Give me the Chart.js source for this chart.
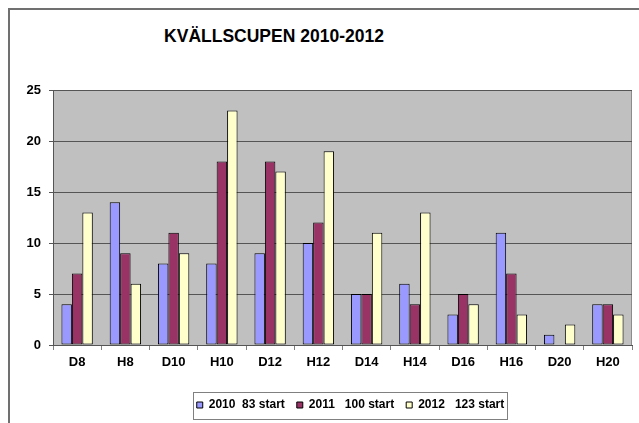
<!DOCTYPE html>
<html>
<head>
<meta charset="utf-8">
<script src="https://cdn.jsdelivr.net/npm/chart.js@4"></script>
<style>
  html, body { margin: 0; padding: 0; background: #fff; }
  #wrap { position: relative; width: 639px; height: 423px; overflow: hidden; }
  #frame { position: absolute; left: 8px; top: 8px; width: 660px; height: 440px;
           border-left: 2px solid #707070; border-top: 2px solid #707070; }
  #title { position: absolute; left: 0; top: 25px; width: 548px; text-align: center;
           font: bold 17.5px "Liberation Sans", Arial, sans-serif; line-height: 22px; color: #000; }
  #chart { position: absolute; left: 0; top: 0; }
</style>
</head>
<body>
<div id="wrap">
  <div id="frame"></div>
  <div id="title">KVÄLLSCUPEN 2010-2012</div>
  <canvas id="chart" width="639" height="423"></canvas>
</div>
<script>
// classes
const categories = ['D8', 'H8', 'D10', 'H10', 'D12', 'H12', 'D14', 'H14', 'D16', 'H16', 'D20', 'H20'];

// starters per class and year
const start2010 = [4, 14, 8, 8, 9, 10, 5, 6, 3, 11, 1, 4];
const start2011 = [7, 9, 11, 18, 18, 12, 5, 4, 5, 7, 0, 4];
const start2012 = [13, 6, 9, 23, 17, 19, 11, 13, 4, 3, 2, 3];

const seriesLabels = ['2010  83 start', '2011   100 start', '2012   123 start'];
const seriesColors = ['#9999FF', '#993366', '#FFFFCC'];

Chart.defaults.font.family = '"Liberation Sans", Arial, sans-serif';
Chart.defaults.color = '#000';

// grey plot area + box around the legend
const excelLook = {
    id: 'excelLook',
    afterLayout(chart) {
        // legend sits a little right of the plot centre in the original
        chart.legend.left += 8;
        chart.legend.right += 8;
    },
    beforeDraw(chart) {
        const {ctx, chartArea: a} = chart;
        ctx.save();
        ctx.fillStyle = '#C0C0C0';
        ctx.fillRect(a.left, a.top, a.right - a.left, a.bottom - a.top);
        ctx.strokeStyle = '#8c8c8c';
        ctx.lineWidth = 1;
        ctx.strokeRect(a.left + 0.5, a.top + 0.5, a.right - a.left - 1, a.bottom - a.top);
        ctx.restore();
    },
    afterDraw(chart) {
        const legend = chart.legend;
        const opts = legend.options.labels;
        const size = opts.font.size;
        const ctx = chart.ctx;
        ctx.save();
        ctx.font = 'bold ' + size + 'px ' + Chart.defaults.font.family;
        let total = 0;
        legend.legendItems.forEach((item, i) => {
            total += opts.boxWidth + size / 2 + ctx.measureText(item.text).width;
            if (i > 0) total += opts.padding;
        });
        const cx = (legend.left + legend.right) / 2;
        const cy = legend.top + opts.padding + size / 2;
        const x0 = Math.round(cx - total / 2 - 4) + 0.5;
        const w = Math.round(total + 6);
        ctx.strokeStyle = '#808080';
        ctx.lineWidth = 1;
        ctx.strokeRect(x0, Math.round(cy - 13) + 0.5, w, 27);
        ctx.restore();
    }
};

function makeDataset(label, data, color) {
    return {
        label: label,
        data: data,
        backgroundColor: color,
        borderColor: '#000',
        borderWidth: 1,
        borderSkipped: false,
        barPercentage: 1,
        categoryPercentage: 0.65
    };
}

new Chart(document.getElementById('chart'), {
    type: 'bar',
    data: {
        labels: categories,
        datasets: [
            makeDataset(seriesLabels[0], start2010, seriesColors[0]),
            makeDataset(seriesLabels[1], start2011, seriesColors[1]),
            makeDataset(seriesLabels[2], start2012, seriesColors[2])
        ]
    },
    options: {
        responsive: false,
        animation: false,
        layout: { padding: { left: 0, right: 7, top: 90, bottom: 2 } },
        scales: {
            x: {
                afterFit(scale) { scale.height = 42; },
                grid: { drawOnChartArea: false, drawTicks: true, tickLength: 5, color: '#808080' },
                border: { color: '#555', width: 1 },
                ticks: { font: { size: 13, weight: 'bold' }, padding: 5, color: '#000' }
            },
            y: {
                min: 0,
                max: 25,
                afterFit(scale) { scale.width = 53; },
                grid: { color: '#555', tickLength: 4, drawTicks: true },
                border: { color: '#555', width: 1 },
                ticks: { stepSize: 5, font: { size: 13, weight: 'bold' }, padding: 8, color: '#000' }
            }
        },
        plugins: {
            title: { display: false },
            tooltip: { enabled: false },
            legend: {
                display: true,
                position: 'bottom',
                fullSize: false,
                labels: {
                    boxWidth: 6,
                    boxHeight: 6,
                    padding: 12,
                    color: '#000',
                    font: { size: 12, weight: 'bold' }
                }
            }
        }
    },
    plugins: [excelLook]
});
</script>
</body>
</html>
